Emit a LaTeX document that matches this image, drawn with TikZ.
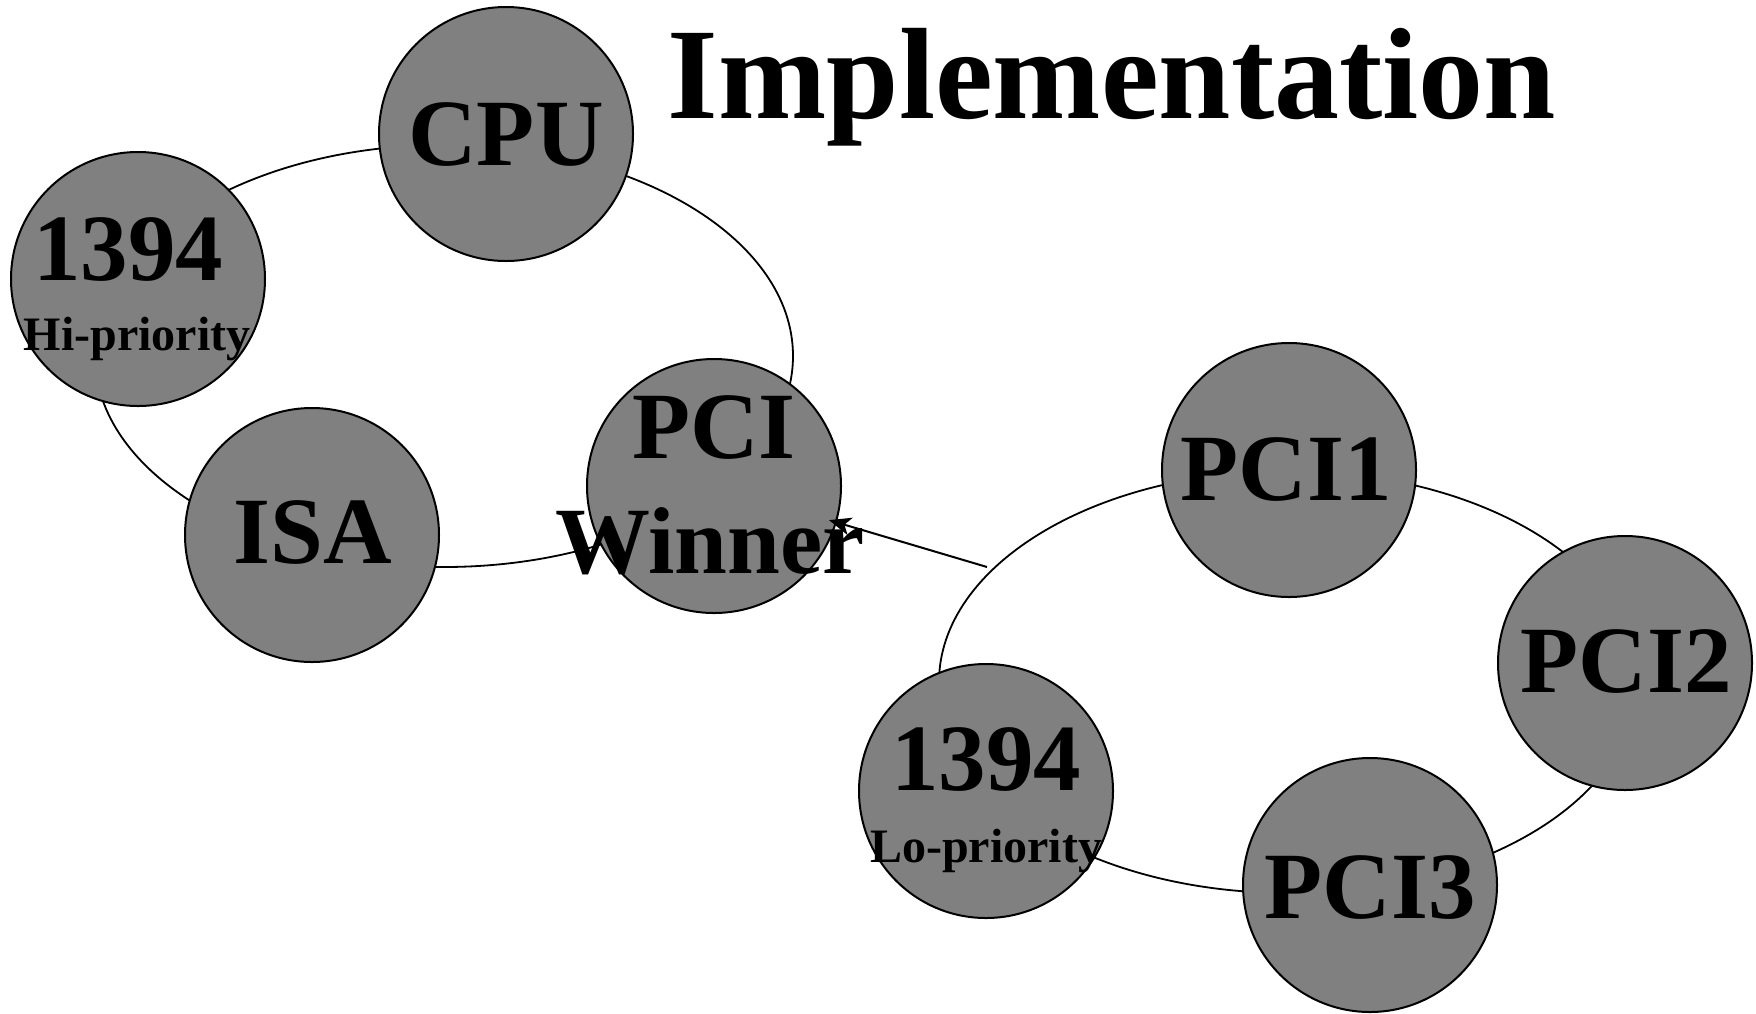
\documentclass[tikz,border=0pt]{standalone}
\usepackage{fontspec}
\setmainfont{Liberation Serif}
\usetikzlibrary{arrows.meta}
\tikzset{
  unit/.style={circle, draw=black, line width=2pt, fill=gray50, minimum size=254pt, inner sep=0pt},
  big/.style={anchor=base, inner sep=0pt, font=\fontsize{95}{95}\selectfont\bfseries},
  small/.style={anchor=base, inner sep=0pt, font=\fontsize{48}{48}\selectfont\bfseries},
  ring/.style={draw=black, line width=1.8pt},
}
\definecolor{gray50}{HTML}{808080}
\begin{document}
\begin{tikzpicture}[x=1pt, y=-1pt]
\useasboundingbox (0,0) rectangle (1756,1013);

% the two arbitration rings
\draw[ring] (444,356) ellipse [x radius=349pt, y radius=211pt];
\draw[ring] (1288,682) ellipse [x radius=349pt, y radius=211pt];

% first ring
\node[unit] (cpu) at (506,134) {};
\node[unit] (hi)  at (138,279) {};
\node[unit] (isa) at (312,535) {};
\node[unit] (win) at (714,486) {};

% second ring
\node[unit] (pcia) at (1289,470) {};
\node[unit] (pcib) at (1625,663) {};
\node[unit] (pcic) at (1370,885) {};
\node[unit] (lo)   at (986,791) {};

% labels
\node[big] (tcpu) at (506,165) {CPU};
\node[big] (thi)  at (128,280) {1394};
\node[small] (thip) at (137,350) {Hi-priority};
\node[big] (tisa) at (313,563) {ISA};
\node[big] (tpci) at (714,458) {PCI};
\node[big] (twin) at (710,573) {Winner};
\node[big] (tpa)  at (1286,500) {PCI1};
\node[big] (tpb)  at (1626,692) {PCI2};
\node[big] (tpc)  at (1370,918) {PCI3};
\node[big] (tlo)  at (986,790) {1394};
\node[small] (tlop) at (986,862) {Lo-priority};

% winner of the second ring feeds the first
\coordinate (from) at (987,567);
\draw[line width=2pt, shorten >=-8pt, -{Stealth[length=22pt, width=18pt, inset=6pt]}] (from) -- (win);

% title
\node[anchor=base, inner sep=0pt, font=\fontsize{130}{130}\selectfont\bfseries] (title) at (1112,118) {Implementation};
\end{tikzpicture}
\end{document}
